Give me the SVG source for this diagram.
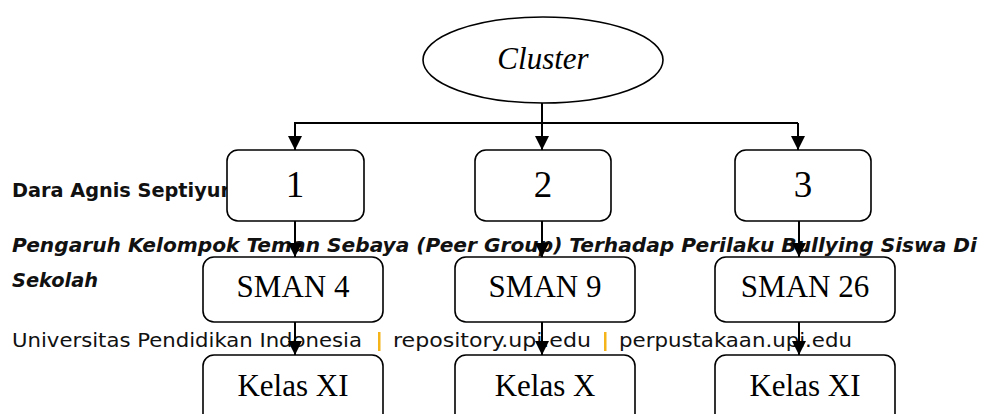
<svg xmlns="http://www.w3.org/2000/svg" width="982" height="414" viewBox="0 0 982 414">
<defs>
<style>
.doc{font-family:"DejaVu Sans Condensed","DejaVu Sans","Liberation Sans",sans-serif;font-size:20px;fill:#111}
.b{font-weight:bold}
.bi{font-weight:bold;font-style:italic}
.pipe{fill:#F4B41A}
.node{fill:#fff;stroke:#000;stroke-width:1.6}
.lbl{font-family:"Liberation Serif","Times New Roman",serif;font-size:31px;fill:#000;text-anchor:middle}
.num{font-size:37px}
.it{font-style:italic}
.conn{fill:none;stroke:#000;stroke-width:2}
</style>
<marker id="ahL" viewBox="0 0 12 12" refX="12" refY="6" markerWidth="14" markerHeight="14" markerUnits="userSpaceOnUse" orient="auto">
<path d="M0,0 L12,6 L0,12 Z" fill="#000"/>
</marker>
</defs>
<rect width="982" height="414" fill="#fff"/>

<g id="footer">
<text class="doc b" x="12" y="197" textLength="218" lengthAdjust="spacingAndGlyphs">Dara Agnis Septiyur</text>
<text class="doc bi" x="12" y="252" textLength="965" lengthAdjust="spacingAndGlyphs">Pengaruh Kelompok Teman Sebaya (Peer Group) Terhadap Perilaku Bullying Siswa Di</text>
<text class="doc bi" x="12" y="287" textLength="86" lengthAdjust="spacingAndGlyphs">Sekolah</text>
<text class="doc" x="12" y="347" textLength="350" lengthAdjust="spacingAndGlyphs">Universitas Pendidikan Indonesia</text>
<rect class="pipe" x="378" y="332" width="2.5" height="19"/>
<text class="doc" x="393" y="347" textLength="198" lengthAdjust="spacingAndGlyphs">repository.upi.edu</text>
<rect class="pipe" x="604" y="332" width="2.5" height="19"/>
<text class="doc" x="619" y="347" textLength="233" lengthAdjust="spacingAndGlyphs">perpustakaan.upi.edu</text>
</g>

<g id="cluster">
<ellipse class="node" cx="543" cy="60" rx="120" ry="43"/>
<text class="lbl it" x="543" y="69" font-size="32">Cluster</text>
</g>

<g id="n1">
<rect class="node" x="227" y="150" width="137" height="71" rx="11"/>
<text class="lbl num" x="295" y="197">1</text>
</g>
<g id="n2">
<rect class="node" x="475" y="150" width="136" height="71" rx="11"/>
<text class="lbl num" x="543" y="197">2</text>
</g>
<g id="n3">
<rect class="node" x="735" y="150" width="136" height="71" rx="11"/>
<text class="lbl num" x="803" y="197">3</text>
</g>

<g id="sman4">
<rect class="node" x="203" y="257" width="180" height="65" rx="11"/>
<text class="lbl" x="293" y="297">SMAN 4</text>
</g>
<g id="sman9">
<rect class="node" x="455" y="257" width="180" height="65" rx="11"/>
<text class="lbl" x="545" y="297">SMAN 9</text>
</g>
<g id="sman26">
<rect class="node" x="715" y="257" width="180" height="65" rx="11"/>
<text class="lbl" x="805" y="297">SMAN 26</text>
</g>

<g id="kelas1">
<rect class="node" x="203" y="355" width="180" height="75" rx="11"/>
<text class="lbl" x="293" y="396">Kelas XI</text>
</g>
<g id="kelas2">
<rect class="node" x="455" y="355" width="180" height="75" rx="11"/>
<text class="lbl" x="545" y="396">Kelas X</text>
</g>
<g id="kelas3">
<rect class="node" x="715" y="355" width="180" height="75" rx="11"/>
<text class="lbl" x="805" y="396">Kelas XI</text>
</g>

<g id="connectors">
<path class="conn" d="M542,103 V123 M294,123 H798"/>
<path class="conn" d="M295,123 V150" marker-end="url(#ahL)"/>
<path class="conn" d="M542,123 V150" marker-end="url(#ahL)"/>
<path class="conn" d="M798,123 V150" marker-end="url(#ahL)"/>
<path class="conn" d="M295,221 V257" marker-end="url(#ahL)"/>
<path class="conn" d="M542,221 V257" marker-end="url(#ahL)"/>
<path class="conn" d="M799,221 V257" marker-end="url(#ahL)"/>
<path class="conn" d="M295,322 V355" marker-end="url(#ahL)"/>
<path class="conn" d="M542,322 V355" marker-end="url(#ahL)"/>
<path class="conn" d="M799,322 V355" marker-end="url(#ahL)"/>
</g>
</svg>
